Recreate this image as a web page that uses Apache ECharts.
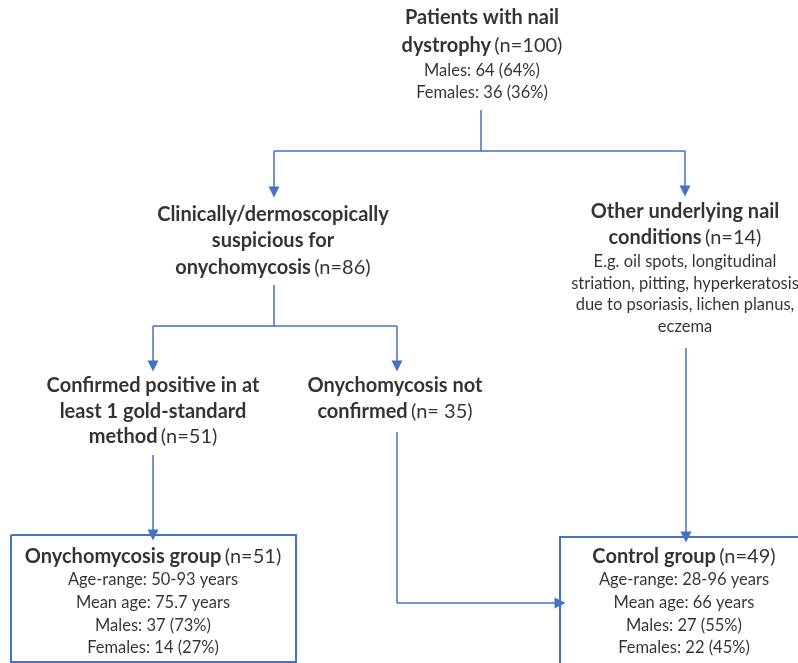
<!DOCTYPE html>
<html><head><meta charset="utf-8">
<script src="https://cdn.jsdelivr.net/npm/echarts@6/dist/echarts.min.js"></script>
<style>html,body{margin:0;padding:0;background:#fff}#c{width:798px;height:663px}</style>
</head><body><div id="c"></div>
<script>
// Text content of each flowchart node (bold part, normal part)
const topNode = [['Patients with nail',''],['dystrophy','(n=100)'],['','Males: 64 (64%)'],['','Females: 36 (36%)']];
const suspNode = [['Clinically/dermoscopically',''],['suspicious for',''],['onychomycosis','(n=86)']];
const otherNode = [['Other underlying nail',''],['conditions','(n=14)'],['','E.g. oil spots, longitudinal'],['','striation, pitting, hyperkeratosis'],['','due to psoriasis, lichen planus,'],['','eczema']];
const posNode = [['Confirmed positive in at',''],['least 1 gold-standard',''],['method','(n=51)']];
const negNode = [['Onychomycosis not',''],['confirmed','(n= 35)']];
const onyNode = [['Onychomycosis group','(n=51)'],['','Age-range: 50-93 years'],['','Mean age: 75.7 years'],['','Males: 37 (73%)'],['','Females: 14 (27%)']];
const ctrlNode = [['Control group','(n=49)'],['','Age-range: 28-96 years'],['','Mean age: 66 years'],['','Males: 27 (55%)'],['','Females: 22 (45%)']];

// layout (flowchart canvas units)
const layout = [
  {node: topNode, x: 482, ys: [18, 46, 71, 93]},
  {node: suspNode, x: 273, ys: [215, 241, 268]},
  {node: otherNode, x: 685, ys: [212, 238, 262, 284, 305, 327]},
  {node: posNode, x: 153, ys: [386, 412, 437]},
  {node: negNode, x: 395, ys: [386, 412]},
  {node: onyNode, x: 153, ys: [557, 580, 603, 626, 648]},
  {node: ctrlNode, x: 684, ys: [557, 580, 603, 626, 648]}
];
// connectors: polyline paths, arrowhead at the final point
const arrows = [
  [[481,110],[481,151],[274,151],[274,192]],
  [[481,151],[685,151],[685,191]],
  [[274,285],[274,326],[153,326],[153,366]],
  [[274,326],[397,326],[397,366]],
  [[153,455],[153,535]],
  [[397,432],[397,603],[560,603]],
  [[686,348],[686,537]]
];
const boxes = [
  [[11,535],[296,535],[296,662],[11,662],[11,535]],
  [[810,537],[560,537],[560,670]]
];

const textData = [];
layout.forEach(L => {
  L.node.forEach((ln, i) => {
    const b = ln[0], n = ln[1];
    let s;
    if (b && n) s = '{b|' + b + '} {m|' + n + '}';
    else if (b) s = '{b|' + b + '}';
    else s = '{s|' + n + '}';
    textData.push({value: [L.x, L.ys[i]], txt: s});
  });
});

const bodies = arrows.filter(c => c.length > 2).map(c => ({coords: c.slice(0, c.length - 1)}));
const heads = arrows.map(c => ({coords: c.slice(c.length - 2)}));

const blue = '#4472C4';
const chart = echarts.init(document.getElementById('c'), null, {renderer: 'canvas'});
chart.setOption({
  animation: false,
  grid: {left: 0, right: 0, top: 0, bottom: 0},
  xAxis: {type: 'value', min: 0, max: 798, show: false},
  yAxis: {type: 'value', min: 0, max: 663, inverse: true, show: false},
  series: [
    {
      type: 'lines', coordinateSystem: 'cartesian2d', polyline: true,
      symbol: 'none',
      lineStyle: {color: blue, width: 1.5, opacity: 1},
      data: bodies, z: 2
    },
    {
      type: 'lines', coordinateSystem: 'cartesian2d', polyline: false,
      symbol: ['none', 'triangle'], symbolSize: [12, 11],
      lineStyle: {color: blue, width: 1.5, opacity: 1, curveness: 0},
      data: heads, z: 2
    },
    {
      type: 'lines', coordinateSystem: 'cartesian2d', polyline: true,
      symbol: 'none',
      lineStyle: {color: blue, width: 2, opacity: 1},
      data: boxes.map(c => ({coords: c})), z: 2
    },
    {
      type: 'scatter', symbolSize: 1, itemStyle: {color: 'rgba(0,0,0,0)'},
      data: textData, z: 5,
      label: {
        show: true, position: 'inside', align: 'center', verticalAlign: 'middle',
        formatter: p => p.data.txt,
        rich: {
          b: {fontFamily: 'Lato', fontWeight: 'bold', fontSize: 20, color: '#000'},
          m: {fontFamily: 'Lato', fontSize: 20, color: '#000'},
          s: {fontFamily: 'Lato', fontSize: 16.5, color: '#000'}
        }
      }
    }
  ]
});
</script></body></html>
